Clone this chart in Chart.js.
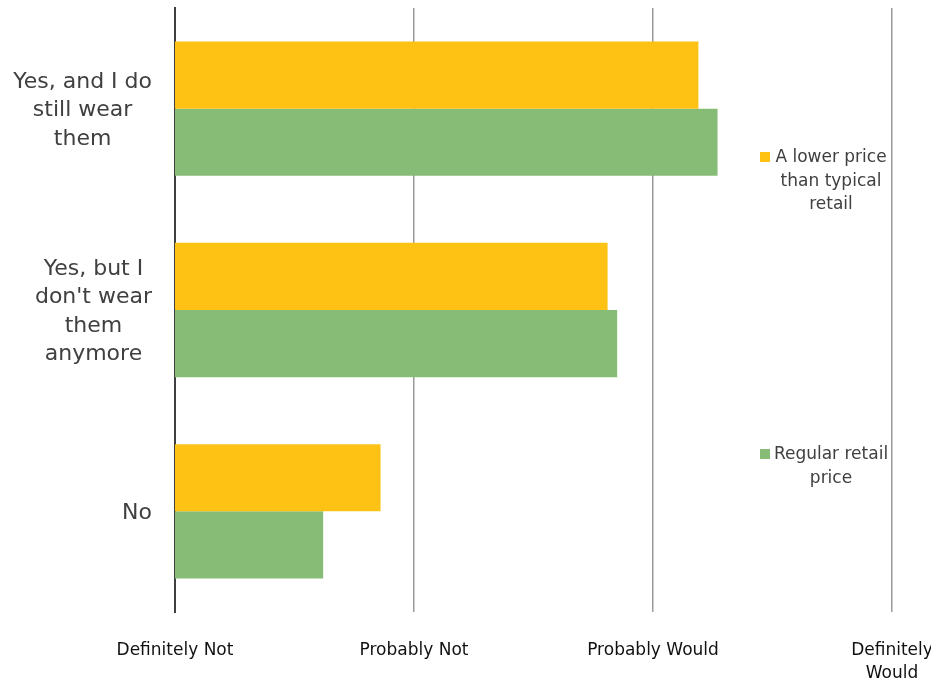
<!DOCTYPE html>
<html>
<head>
<meta charset="utf-8">
<script src="https://cdn.jsdelivr.net/npm/chart.js@4/dist/chart.umd.min.js"></script>
<style>
  html, body { margin: 0; padding: 0; background: #fff; }
  #wrap { position: relative; width: 931px; height: 683px; }
  .legend { position: absolute; font-family: "DejaVu Sans", sans-serif; font-size: 17px; color: #404040; line-height: 23.5px; }
  .legend .box { position: absolute; width: 10px; height: 10px; left: -11px; top: 7px; }
  .legend .txt { text-align: center; width: 120px; }
</style>
</head>
<body>
<div id="wrap">
  <canvas id="barChart" width="931" height="683"></canvas>
  <div class="legend" style="left:771px; top:145px;">
    <div class="box" style="background:#fec214"></div>
    <div class="txt">A lower price<br>than typical<br>retail</div>
  </div>
  <div class="legend" style="left:771px; top:442px;">
    <div class="box" style="background:#86bc76"></div>
    <div class="txt">Regular retail<br>price</div>
  </div>
</div>
<script>
// data kategori dan nilai (skala 1-4)
const categories = [
    ['Yes, and I do', 'still wear', 'them'],
    ['Yes, but I', "don't wear", 'them', 'anymore'],
    ['No']
];
const lowerPrice = [3.19, 2.81, 1.86];
const regularPrice = [3.27, 2.85, 1.62];
const tickLabels = ['Definitely Not', 'Probably Not', 'Probably Would', ['Definitely', 'Would']];

// label kategori: tiap blok rata kanan, baris di dalamnya rata tengah (seperti Excel)
const categoryLabels = {
    id: 'categoryLabels',
    afterDraw(chart) {
        const c = chart.ctx;
        const yScale = chart.scales.y;
        const rightEdge = yScale.right - 23;
        const lineH = 28.5;
        c.save();
        c.font = '22px "DejaVu Sans"';
        c.fillStyle = '#404040';
        c.textAlign = 'center';
        c.textBaseline = 'middle';
        chart.data.labels.forEach((lines, i) => {
            const widest = Math.max(...lines.map(t => c.measureText(t).width));
            const cx = rightEdge - widest / 2;
            const cy = yScale.getPixelForTick(i) + 2;
            const top = cy - (lines.length - 1) * lineH / 2;
            lines.forEach((t, j) => c.fillText(t, cx, top + j * lineH));
        });
        c.restore();
    }
};

const ctx = document.getElementById('barChart').getContext('2d');
new Chart(ctx, {
    type: 'bar',
    data: {
        labels: categories,
        datasets: [
            { label: 'A lower price than typical retail', data: lowerPrice, backgroundColor: '#fec214' },
            { label: 'Regular retail price', data: regularPrice, backgroundColor: '#86bc76' }
        ]
    },
    options: {
        indexAxis: 'y',
        responsive: false,
        animation: false,
        layout: { padding: { top: 8, right: 0, left: 0, bottom: 0 } },
        datasets: { bar: { barPercentage: 1, categoryPercentage: 0.667 } },
        scales: {
            x: {
                min: 1,
                max: 4,
                z: 1,
                afterFit: s => {
                    s.height = 71;
                    s.paddingLeft = 0;
                    s.paddingRight = 39;
                },
                ticks: {
                    stepSize: 1,
                    padding: 28,
                    color: '#111',
                    font: { family: 'DejaVu Sans', size: 17, lineHeight: 1.3 },
                    maxRotation: 0,
                    callback: v => tickLabels[v - 1]
                },
                grid: { color: 'rgba(120,120,120,0.75)', lineWidth: 1.5, drawTicks: false },
                border: { display: false }
            },
            y: {
                z: 2,
                afterFit: s => {
                    s.width = 175;
                    s.paddingTop = 0;
                    s.paddingBottom = 0;
                },
                ticks: { display: false },
                grid: { display: false, drawTicks: false },
                border: { color: '#404040', width: 2 }
            }
        },
        plugins: {
            legend: { display: false },
            tooltip: { enabled: false }
        }
    },
    plugins: [categoryLabels]
});
</script>
</body>
</html>
